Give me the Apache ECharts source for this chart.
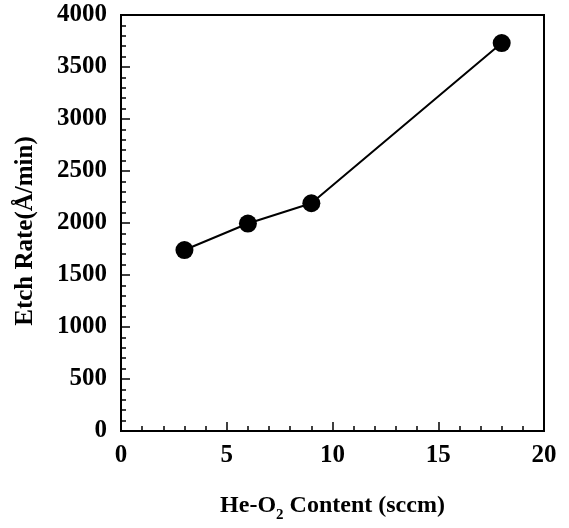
<!DOCTYPE html>
<html>
<head>
<meta charset="utf-8">
<script src="https://cdn.jsdelivr.net/npm/echarts@6/dist/echarts.min.js"></script>
<style>
  html, body { margin: 0; padding: 0; background: #fff; }
  #chart { width: 569px; height: 528px; }
</style>
</head>
<body>
<div id="chart"></div>
<script>
// 数据
var heO2Content = [3, 6, 9, 18];
var etchRate = [1740, 1995, 2190, 3730];

var fontFam = '"Liberation Serif", "DejaVu Serif", serif';

function initChart(){
    var myChart = echarts.init(document.getElementById('chart'));
    var points = heO2Content.map(function(x, i){ return [x, etchRate[i]]; });
    var option = {
        animation: false,
        grid: {
            left: 121, right: 25, top: 15, bottom: 94,
            show: true, borderColor: '#000', borderWidth: 2
        },
        xAxis: {
            type: 'value', min: 0, max: 20, interval: 5,
            name: '{n|He-O}{s|2}{n| Content (sccm)}',
            nameLocation: 'middle', nameGap: 63,
            nameTextStyle: {
                rich: {
                    n: { fontFamily: fontFam, fontWeight: 'bold', fontSize: 24, color: '#000' },
                    s: { fontFamily: fontFam, fontWeight: 'bold', fontSize: 15, color: '#000', verticalAlign: 'bottom', padding: [0, 0, -5, 0] }
                }
            },
            axisLine: { lineStyle: { color: '#000', width: 2 } },
            axisTick: { inside: true, length: 9, lineStyle: { color: '#000', width: 1.5 } },
            minorTick: { show: true, splitNumber: 5, length: 5, lineStyle: { color: '#000', width: 1.5 } },
            splitLine: { show: false },
            axisLabel: { margin: 12, fontFamily: fontFam, fontWeight: 'bold', fontSize: 25, color: '#000',
                formatter: function(v){ return String(v); } }
        },
        yAxis: {
            type: 'value', min: 0, max: 4000, interval: 500,
            name: 'Etch Rate(Å/min)',
            nameLocation: 'middle', nameRotate: 90, nameGap: 83,
            nameTextStyle: { fontFamily: fontFam, fontWeight: 'bold', fontSize: 25, color: '#000', padding: [0, 16, 0, 0] },
            axisLine: { lineStyle: { color: '#000', width: 2 } },
            axisTick: { inside: true, length: 9, lineStyle: { color: '#000', width: 1.5 } },
            minorTick: { show: true, splitNumber: 5, length: 5, lineStyle: { color: '#000', width: 1.5 } },
            splitLine: { show: false },
            axisLabel: { margin: 14, fontFamily: fontFam, fontWeight: 'bold', fontSize: 25, color: '#000',
                formatter: function(v){ return String(v); } }
        },
        series: [{
            type: 'line',
            data: points,
            symbol: 'circle',
            symbolSize: 18,
            itemStyle: { color: '#000' },
            lineStyle: { color: '#000', width: 2 }
        }]
    };
    myChart.setOption(option);
}
initChart();
</script>
</body>
</html>
